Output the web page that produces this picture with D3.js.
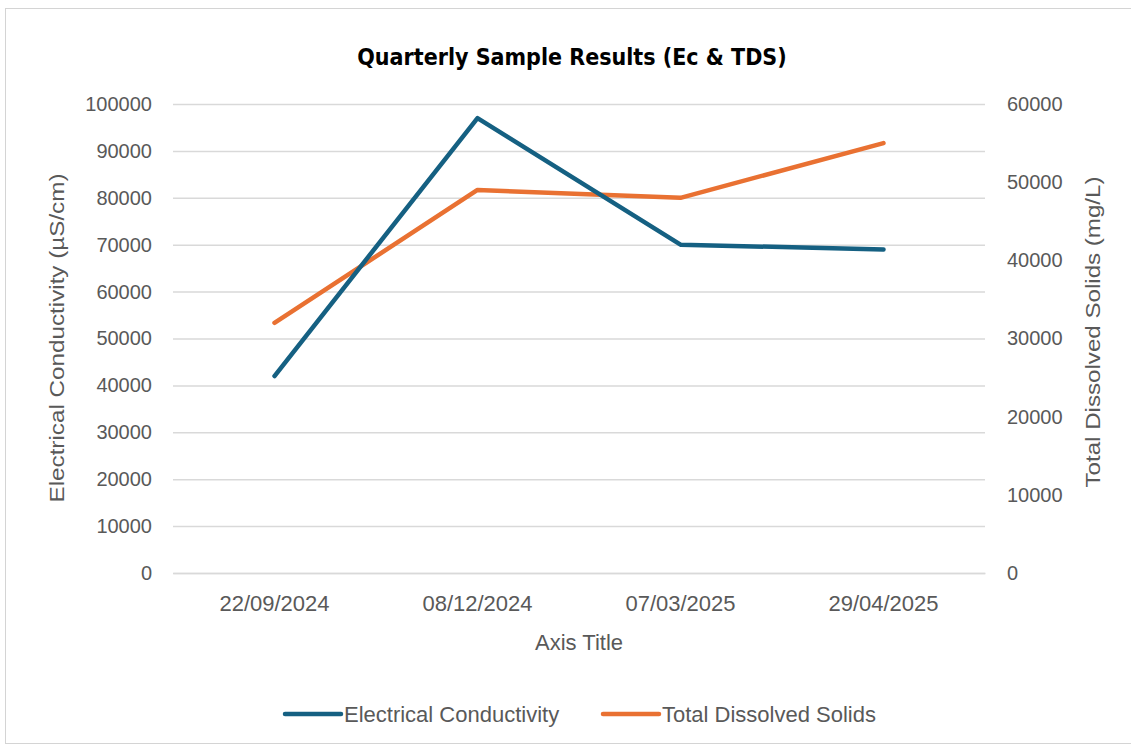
<!DOCTYPE html>
<html>
<head>
<meta charset="utf-8">
<script src="https://cdn.jsdelivr.net/npm/d3@7"></script>
<style>
  body { margin: 0; background: #fff; }
  text { font-family: "Liberation Sans", Arial, sans-serif; fill: #595959; }
</style>
</head>
<body>
<div id="chart"></div>
<script>
(function () {
    // Sample dates (categories)
    const dates = ["22/09/2024", "08/12/2024", "07/03/2025", "29/04/2025"];
    // Electrical conductivity, µS/cm (left axis)
    const ecValues = [42000, 97000, 70000, 69000];
    // Total dissolved solids, mg/L (right axis)
    const tdsValues = [32000, 49000, 48000, 55000];
    // Tick labels
    const leftTicks = [0, 10000, 20000, 30000, 40000, 50000, 60000, 70000, 80000, 90000, 100000];
    const rightTicks = [0, 10000, 20000, 30000, 40000, 50000, 60000];

    const width = 1131, height = 749;
    const blue = "#156082", orange = "#E97132";

    const svg = d3.select("#chart").append("svg")
        .attr("width", width)
        .attr("height", height);

    // chart frame
    svg.append("rect")
        .attr("x", 5.5).attr("y", 8.5)
        .attr("width", 1135).attr("height", 735)
        .attr("fill", "#fff")
        .attr("stroke", "#d4d4d4");

    const plot = { left: 173, right: 985, top: 104, bottom: 573 };

    const x = d3.scaleBand().domain(dates).range([plot.left, plot.right]);
    const yLeft = d3.scaleLinear().domain([0, 100000]).range([plot.bottom, plot.top]);
    const yRight = d3.scaleLinear().domain([0, 60000]).range([plot.bottom, plot.top]);

    // gridlines
    svg.append("g")
        .attr("transform", `translate(${plot.left},0)`)
        .call(d3.axisLeft(yLeft).tickValues(leftTicks)
            .tickSize(-(plot.right - plot.left)).tickFormat(""))
        .call(g => g.select(".domain").remove())
        .call(g => g.selectAll("line").attr("stroke", "#d9d9d9").attr("stroke-width", 1.5));

    // left axis labels
    svg.append("g")
        .attr("transform", `translate(${plot.left},0)`)
        .call(d3.axisLeft(yLeft).tickValues(leftTicks).tickSize(0).tickPadding(21).tickFormat(d3.format("d")))
        .call(g => g.select(".domain").remove())
        .call(g => g.selectAll("text")
            .style("font-family", "'Liberation Sans', Arial, sans-serif")
            .style("font-size", "20px").attr("fill", "#595959"));

    // right axis labels
    svg.append("g")
        .attr("transform", `translate(${plot.right},0)`)
        .call(d3.axisRight(yRight).tickValues(rightTicks).tickSize(0).tickPadding(22).tickFormat(d3.format("d")))
        .call(g => g.select(".domain").remove())
        .call(g => g.selectAll("text")
            .style("font-family", "'Liberation Sans', Arial, sans-serif")
            .style("font-size", "20px").attr("fill", "#595959"));

    // category axis
    svg.append("g")
        .attr("transform", `translate(0,${plot.bottom})`)
        .call(d3.axisBottom(x).tickSize(0).tickPadding(22))
        .call(g => g.select(".domain").attr("stroke", "#d9d9d9").attr("stroke-width", 1.5))
        .call(g => g.selectAll("text")
            .style("font-family", "'Liberation Sans', Arial, sans-serif")
            .style("font-size", "22px").attr("fill", "#595959"));

    // lines
    const cx = d => x(d) + x.bandwidth() / 2;
    const ecLine = d3.line().x((d, i) => cx(dates[i])).y(d => yLeft(d));
    const tdsLine = d3.line().x((d, i) => cx(dates[i])).y(d => yRight(d));

    svg.append("path").datum(tdsValues)
        .attr("d", tdsLine)
        .attr("fill", "none").attr("stroke", orange)
        .attr("stroke-width", 4.5).attr("stroke-linejoin", "round").attr("stroke-linecap", "round");

    svg.append("path").datum(ecValues)
        .attr("d", ecLine)
        .attr("fill", "none").attr("stroke", blue)
        .attr("stroke-width", 4.5).attr("stroke-linejoin", "round").attr("stroke-linecap", "round");

    // title
    svg.append("text")
        .attr("x", 572).attr("y", 65)
        .attr("text-anchor", "middle")
        .style("font-family", "'Liberation Sans Narrow', 'DejaVu Sans Condensed', sans-serif")
        .style("font-weight", "bold").style("font-size", "23px")
        .style("fill", "#000")
        .text("Quarterly Sample Results (Ec & TDS)");

    // axis titles
    svg.append("text")
        .attr("transform", "translate(64,338) rotate(-90)")
        .attr("text-anchor", "middle")
        .style("font-size", "21px")
        .attr("textLength", 329).attr("lengthAdjust", "spacingAndGlyphs")
        .text("Electrical Conductivity (µS/cm)");

    svg.append("text")
        .attr("transform", "translate(1100,332) rotate(-90)")
        .attr("text-anchor", "middle")
        .style("font-size", "21px")
        .attr("textLength", 311).attr("lengthAdjust", "spacingAndGlyphs")
        .text("Total Dissolved Solids (mg/L)");

    svg.append("text")
        .attr("x", (plot.left + plot.right) / 2).attr("y", 650)
        .attr("text-anchor", "middle")
        .style("font-size", "22px")
        .text("Axis Title");

    // legend
    const legendItems = [
        { name: "Electrical Conductivity", color: blue, x: 285 },
        { name: "Total Dissolved Solids", color: orange, x: 603 }
    ];
    const legend = svg.append("g").attr("transform", "translate(0,714)");
    legendItems.forEach(item => {
        legend.append("line")
            .attr("x1", item.x).attr("x2", item.x + 56)
            .attr("stroke", item.color).attr("stroke-width", 4.5)
            .attr("stroke-linecap", "round");
        legend.append("text")
            .attr("x", item.x + 59).attr("y", 8)
            .style("font-size", "22px")
            .text(item.name);
    });
})();
</script>
</body>
</html>
